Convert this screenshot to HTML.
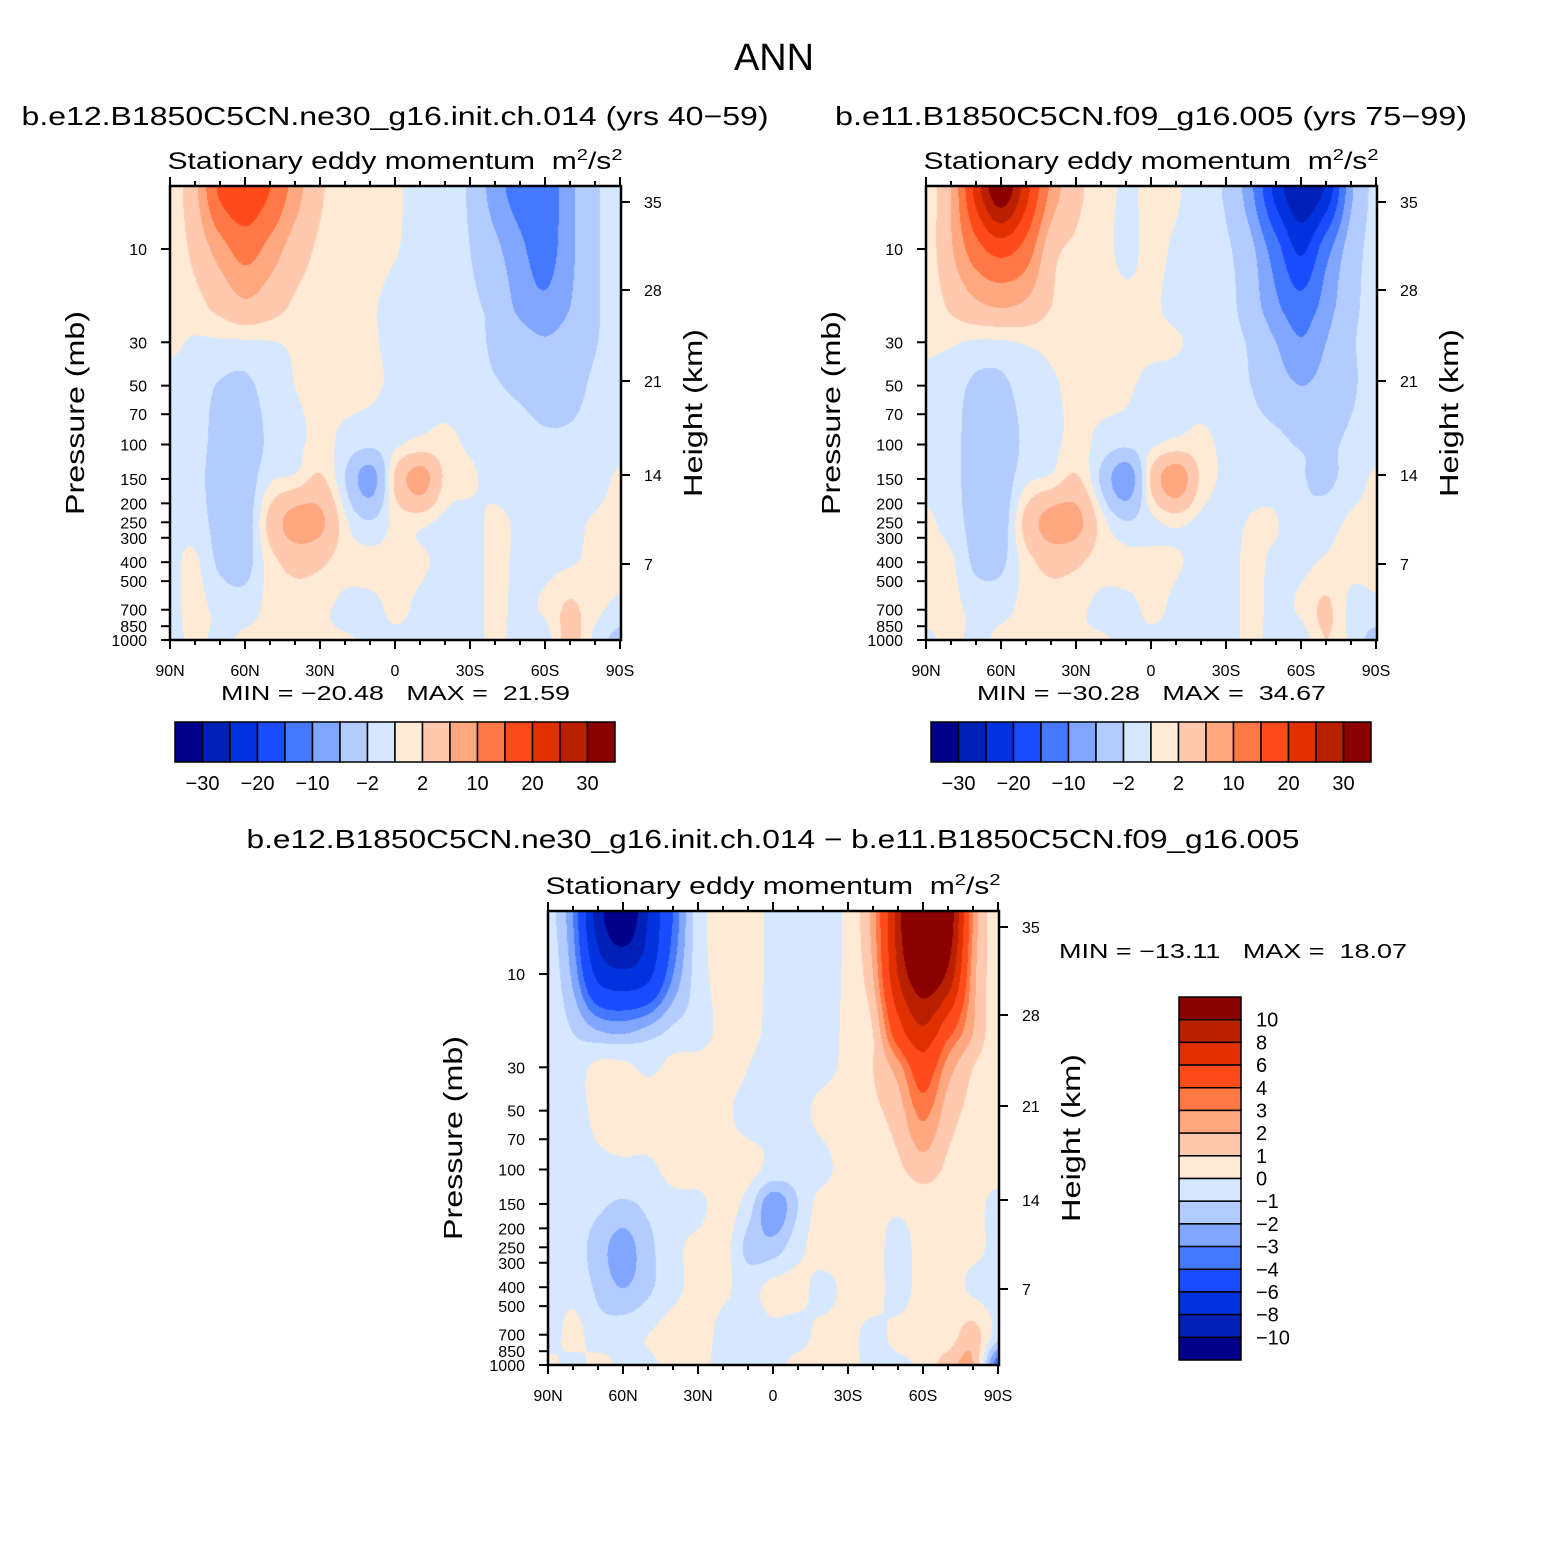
<!DOCTYPE html>
<html><head><meta charset="utf-8"><title>ANN Stationary eddy momentum</title>
<style>
html,body{margin:0;padding:0;background:#fff;}
#wrap{position:relative;width:1547px;height:1550px;overflow:hidden;font-family:"Liberation Sans",sans-serif;}
canvas{position:absolute;}
svg{position:absolute;left:0;top:0;}
text{white-space:pre;}
</style></head>
<body>
<div id="wrap">
<canvas id="c1" width="451" height="454" style="left:170px;top:186px"></canvas>
<canvas id="c2" width="451" height="454" style="left:926px;top:186px"></canvas>
<canvas id="c3" width="451" height="454" style="left:548px;top:912px"></canvas>
<svg id="svg" width="1547" height="1550"></svg>
</div>
<script>
const lats = [90,80,70,60,50,40,30,20,10,0,-10,-20,-30,-40,-50,-60,-70,-80,-90];
const pLevels = [5,10,20,30,50,100,150,250,400,700,1000];
const field1 = [
[0.3,5,16,19,15,8,2.5,1.2,0.6,0.2,-0.5,-1,-2.5,-8,-12,-13,-7,-2.5,-1],
[0.3,3,8,12,8.5,4,1.5,1,0.6,0.1,-0.5,-1,-2,-5,-9,-12,-7,-2.5,-1],
[0.3,1,3,5,3.5,1.5,1,0.6,0.2,-0.5,-0.8,-1,-1.5,-3,-7,-9,-6,-2.5,-0.8],
[0.3,-0.2,-0.3,-0.3,-0.1,0.3,0.8,0.8,0.3,-0.5,-0.6,-0.8,-1.2,-2.5,-4,-5.5,-4,-2.2,-0.7],
[-0.5,-1,-2.2,-2.5,-1,0,0.5,0.5,0.3,-0.3,-0.5,-0.8,-1.2,-1.8,-2.5,-3.5,-3,-1.5,-0.5],
[-0.5,-1,-3,-3.5,-1.5,-0.5,0.5,-0.5,-1.5,-0.3,0.5,0.5,-0.3,-0.8,-1,-1.5,-1.5,-1,-0.5],
[-0.5,-1,-3.5,-3.5,-0.3,0.5,2.5,-2,-8,2.5,8,1.5,0.3,-0.5,-0.8,-1,-1,-0.7,0.3],
[-0.5,-0.8,-3,-3.5,3,8,7,0.5,-1.8,0.5,0.5,-0.5,-0.5,0.3,-0.3,-0.7,-0.5,0.2,0.5],
[-0.5,0.3,-2.5,-3,1,3,2.5,0.8,0.5,0.5,0.3,-0.5,-0.5,0.3,-0.3,-0.5,-0.2,0.5,0.5],
[-0.5,0.5,-0.5,-0.8,0.5,0.8,0.5,-0.5,-0.5,0.3,-0.3,-0.5,-0.5,0.3,-0.3,0.3,2.5,0.5,-0.5],
[-0.5,0.3,-0.3,0.3,0.5,0.3,0.3,0.2,-0.3,-0.3,-0.3,-0.5,-0.5,0.3,-0.5,-1,3,-0.5,-3]
];
const field2 = [
[0.5,6,22,34,22,9,3,1,-0.3,0.5,0.3,-1.5,-2.5,-9,-22,-29,-24,-7,-1],
[0.3,5.5,13,17,13,3.5,1.5,0.8,-0.5,0.5,-0.3,-1,-1.5,-5,-13,-21,-12,-4,-1],
[0.3,2.5,5,6,5,2,1,0.8,0.5,0.3,-0.5,-0.8,-1,-4,-9,-13,-8,-3,-1],
[0.3,0.2,-0.3,-0.3,0.2,0.5,0.8,0.8,0.5,0.5,0.2,-0.6,-1,-2.5,-6,-9.5,-6,-2.5,-0.8],
[-0.5,-1,-2.5,-2.5,-1,-0.3,0.5,0.5,0.3,-0.5,-0.6,-0.8,-1.2,-2,-4,-6,-4.5,-2.5,-0.8],
[-0.5,-1,-3.5,-3.5,-1.5,-0.5,0.5,-0.5,-1.5,-0.3,0.5,0.5,-0.5,-1,-1.3,-2.3,-2.5,-1.5,-0.5],
[-0.5,-1,-3.5,-3.5,-0.5,0.5,2.5,-2.5,-9,2.5,9,1.5,-0.3,-0.5,-0.8,-1.8,-2.5,-1,0.3],
[0.3,-0.8,-3,-3.5,3,8,7.5,1,-1.8,-0.5,0.5,-0.5,-0.5,0.1,0.1,-1.5,-0.8,0.3,0.5],
[0.5,0.3,-2.5,-2.5,1,3,2.5,0.8,0.5,0.5,0.2,-0.5,-0.5,0.3,-0.3,-0.5,0.3,0.5,0.5],
[0.5,0.5,-0.5,-0.5,0.5,0.8,0.5,-0.5,-0.5,0.3,-0.3,-0.5,-0.5,0.3,-0.3,0.3,2.5,-0.5,-0.5],
[-0.3,0.3,-0.3,0.3,0.5,0.3,0.3,0.2,-0.3,-0.3,-0.3,-0.5,-0.5,0.3,-0.5,-1,2,-0.5,-3]
];
const field3 = [
[-0.5,-3,-9,-12,-8,-4,-0.5,0.3,0.5,-0.3,-0.5,-0.5,0.3,2.5,9,18,12,3,0.3],
[-0.3,-2.3,-6.5,-7.5,-6.5,-3,-0.5,0.3,0.5,-0.3,-0.5,-0.5,0.3,2,8,12,9.5,2.5,0.5],
[-0.3,-1,-1.8,-2,-1.5,-0.7,-0.5,0.3,0.3,-0.3,-0.5,-0.5,0.3,1,5,7.5,4.5,2,0.3],
[-0.5,-0.5,0.3,0.3,-0.2,0.3,0.5,0.5,0,-0.5,-0.5,-0.3,0.3,1,2.5,5,2.5,1,0.3],
[-0.5,-0.5,0.3,0.5,0.5,0.5,0.5,0.2,-0.3,-0.3,-0.3,0.3,0.5,0.8,1.5,3.3,1.5,0.7,0.2],
[-0.5,-0.5,-0.3,-0.2,-0.2,0.3,0.5,0.5,0.3,-0.3,-0.5,-0.3,0.5,0.5,0.8,1.5,0.8,0.5,0.3],
[-0.5,-0.5,-0.8,-1.2,-0.8,-0.3,-0.3,0.5,-0.5,-2.8,-1,0.5,0.5,0.3,0.2,0.5,0.5,0.3,-0.3],
[-0.5,-0.5,-1.5,-2.5,-1.3,-0.3,0.3,0.5,-1.3,-1.5,-0.3,0.5,0.5,0.5,-0.5,0.5,0.5,0.3,-0.3],
[-0.5,-0.3,-1.2,-2,-1.2,-0.3,0.3,0.2,-0.3,0.3,0.3,-0.3,0.3,0.5,-0.5,0.5,0.5,-0.2,-0.5],
[-0.5,0.3,-0.5,-0.3,0,0.5,0.5,-0.3,-0.5,-0.3,-0.3,0.3,0.3,-0.3,0.3,0.5,0.5,1.5,-0.5],
[0.3,-0.3,0.3,-0.2,-0.2,0.3,0.3,-0.3,-0.3,-0.3,0.3,0.3,0.3,-0.3,-0.3,0.3,1.5,2,-4]
];
const levels12 = [-30,-25,-20,-15,-10,-6,-2,0,2,6,10,15,20,25,30];
const levels3 = [-10,-8,-6,-4,-3,-2,-1,0,1,2,3,4,6,8,10];
const palette = ["#00008a","#0020b8","#0033dd","#1a4cff","#4478ff","#80a6ff","#b3ccff","#d6e8ff","#ffead6","#ffc9b0","#ffa880","#ff7845","#ff4a1a","#e03000","#b82000","#8b0000"];
const xTickLabels = ["90N","60N","30N","0","30S","60S","90S"];
const xTickLats = [90,60,30,0,-30,-60,-90];
const pTicks = [10,30,50,70,100,150,200,250,300,400,500,700,850,1000];
const hTicks = [35,28,21,14,7];
const hTickOffsets = [16,104,195,289,378];
const cbLabels12 = ["−30","−20","−10","−2","2","10","20","30"];
const cbLabels3 = ["10","8","6","4","3","2","1","0","−1","−2","−3","−4","−6","−8","−10"];
const minmax = [["−20.48","21.59"],["−30.28","34.67"],["−13.11","18.07"]];

const PPD = 195.5;
const W = 451, H = 454;
function yOfP(top, p){ return top + 63 + PPD*(Math.log10(p) - 1); }
function xOfLat(left, lat){ return left + (90 - lat)/180*450; }

function hexToRgb(h){ return [parseInt(h.slice(1,3),16),parseInt(h.slice(3,5),16),parseInt(h.slice(5,7),16)]; }
const rgbPal = palette.map(hexToRgb);

function cr(p0,p1,p2,p3,t){
  const t2=t*t, t3=t2*t;
  return 0.5*((2*p1)+(-p0+p2)*t+(2*p0-5*p1+4*p2-p3)*t2+(-p0+3*p1-3*p2+p3)*t3);
}
function drawField(id, field, levels){
  const cv = document.getElementById(id);
  const ctx = cv.getContext('2d');
  const img = ctx.createImageData(W, H);
  const logs = pLevels.map(p => Math.log10(p));
  const nr = field.length, nc = field[0].length;
  const gr = (r,c) => field[Math.max(0,Math.min(nr-1,r))][Math.max(0,Math.min(nc-1,c))];
  for(let py=0; py<H; py++){
    const lp = 1 + (py + 0.5 - 63)/PPD;
    let r = 0;
    while(r < logs.length-2 && lp > logs[r+1]) r++;
    let fy = (lp - logs[r])/(logs[r+1]-logs[r]);
    fy = Math.max(0, Math.min(1, fy));
    for(let px=0; px<W; px++){
      const lat = 90 - (px + 0.5)/450*180;
      let cf = (90 - lat)/10;
      let c = Math.floor(cf); if(c > nc-2) c = nc-2; if(c<0) c=0;
      let fx = Math.max(0, Math.min(1, cf - c));
      const rows = [];
      for(let k=-1;k<=2;k++){
        rows.push(cr(gr(r+k,c-1),gr(r+k,c),gr(r+k,c+1),gr(r+k,c+2),fx));
      }
      const v = cr(rows[0],rows[1],rows[2],rows[3],fy);
      let k = 0; while(k < levels.length && v >= levels[k]) k++;
      const col = rgbPal[k];
      const i = (py*W + px)*4;
      img.data[i]=col[0]; img.data[i+1]=col[1]; img.data[i+2]=col[2]; img.data[i+3]=255;
    }
  }
  ctx.putImageData(img, 0, 0);
}
drawField('c1', field1, levels12);
drawField('c2', field2, levels12);
drawField('c3', field3, levels3);

const NS = "http://www.w3.org/2000/svg";
const svg = document.getElementById('svg');
function mk(tag, attrs, parent){
  const e = document.createElementNS(NS, tag);
  for(const k in attrs) e.setAttribute(k, attrs[k]);
  (parent||svg).appendChild(e);
  return e;
}
function txt(str, x, y, size, anchor, parent, extra){
  const t = mk('text', Object.assign({x:x, y:y, 'font-size':size, 'text-anchor':anchor||'middle', 'font-family':'Liberation Sans, sans-serif', fill:'#000'}, extra||{}), parent);
  t.textContent = str;
  return t;
}

const title = txt("ANN", 774, 70, 38, 'middle', svg, {textLength:80, lengthAdjust:'spacingAndGlyphs'});



function panel(left, top, name, titleStr, titleCx, titleW, mm, mmX, mmY, mmW){
  const g = mk('g', {});
  
  
  if(titleStr){
    const t = txt(titleStr, titleCx, top-61, 26, 'middle', g, {textLength:titleW, lengthAdjust:'spacingAndGlyphs'});
    
    
  }
  const st = mk('text', {x:left+225, y:top-17, 'font-size':24, 'text-anchor':'middle', 'font-family':'Liberation Sans, sans-serif', textLength:455, lengthAdjust:'spacingAndGlyphs'}, g);
  
  
  st.innerHTML = 'Stationary eddy momentum  m<tspan font-size="16" dy="-9">2</tspan><tspan dy="9">/s</tspan><tspan font-size="16" dy="-9">2</tspan>';
  const fr = mk('rect', {x:left, y:top, width:451, height:454, fill:'none', stroke:'#000', 'stroke-width':2.5}, g);
  
  
  for(let lat=90; lat>=-90; lat-=10){
    const x = xOfLat(left, lat);
    const major = (lat % 30 === 0);
    const L = major ? 9 : 5;
    mk('line', {x1:x, y1:top, x2:x, y2:top-L, stroke:'#000', 'stroke-width':2}, g);
    mk('line', {x1:x, y1:top+454, x2:x, y2:top+454+L, stroke:'#000', 'stroke-width':2}, g);
  }
  xTickLabels.forEach((lab, i) => {
    const t = txt(lab, xOfLat(left, xTickLats[i]), top+490, 16, 'middle', g);
    
    
  });
  pTicks.forEach(p => {
    const y = yOfP(top, p);
    mk('line', {x1:left, y1:y, x2:left-9, y2:y, stroke:'#000', 'stroke-width':2}, g);
    const t = txt(String(p), left-23, y+6, 16, 'end', g);
    
    
  });
  hTicks.forEach((h, i) => {
    const y = top + hTickOffsets[i];
    mk('line', {x1:left+451, y1:y, x2:left+460, y2:y, stroke:'#000', 'stroke-width':2}, g);
    const t = txt(String(h), left+474, y+6, 16, 'start', g);
    
    
  });
  const yl = txt("Pressure (mb)", 0, 0, 26, 'middle', g, {transform:`translate(${left-86},${top+227}) rotate(-90)`, textLength:204, lengthAdjust:'spacingAndGlyphs'});
  
  
  const yr = txt("Height (km)", 0, 0, 26, 'middle', g, {transform:`translate(${left+532},${top+227}) rotate(-90)`, textLength:168, lengthAdjust:'spacingAndGlyphs'});
  
  
  const m = txt(`MIN = ${mm[0]}   MAX =  ${mm[1]}`, mmX, mmY, 20, 'start', g, {textLength:mmW, lengthAdjust:'spacingAndGlyphs'});
  
  
  return g;
}

function hColorbar(left, top, name){
  const g = mk('g', {});
  
  
  const bw = 440/16;
  palette.forEach((c, i) => {
    const r = mk('rect', {x:left+i*bw, y:top, width:bw, height:40, fill:c, stroke:'#000', 'stroke-width':1.5}, g);
    
    
  });
  cbLabels12.forEach((lab, i) => {
    const t = txt(lab, left + (2*i+1)*bw, top+68, 20, 'middle', g);
    
    
  });
}
function vColorbar(left, top, name){
  const g = mk('g', {});
  
  
  const bh = 363/16;
  palette.slice().reverse().forEach((c, i) => {
    const r = mk('rect', {x:left, y:top+i*bh, width:62, height:bh, fill:c, stroke:'#000', 'stroke-width':1.5}, g);
    
    
  });
  cbLabels3.forEach((lab, i) => {
    const t = txt(lab, left+77, top + (i+1)*bh + 7, 20, 'start', g);
    
    
  });
}

panel(170, 186, 'panel-left', "b.e12.B1850C5CN.ne30_g16.init.ch.014 (yrs 40−59)", 395, 747, minmax[0], 221, 700, 349);
hColorbar(175, 722, 'colorbar-left');
panel(926, 186, 'panel-right', "b.e11.B1850C5CN.f09_g16.005 (yrs 75−99)", 1151, 632, minmax[1], 977, 700, 349);
hColorbar(931, 722, 'colorbar-right');
panel(548, 911, 'panel-difference', null, 0, 0, minmax[2], 1059, 958, 348);
const dt = txt("b.e12.B1850C5CN.ne30_g16.init.ch.014 − b.e11.B1850C5CN.f09_g16.005", 773, 848, 26, 'middle', svg, {textLength:1053, lengthAdjust:'spacingAndGlyphs'});


vColorbar(1179, 997, 'colorbar-difference');
</script>
</body></html>
